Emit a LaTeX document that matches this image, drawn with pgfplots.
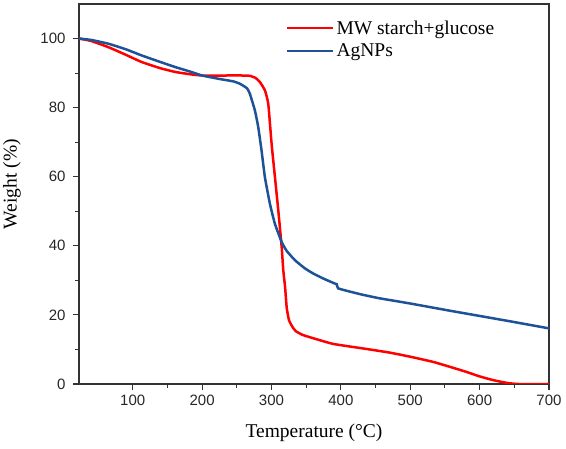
\documentclass[border=0pt]{standalone}
\usepackage{fontspec}
\setmainfont{Liberation Serif}
\setsansfont{Liberation Sans}
\usepackage{pgfplots}
\pgfplotsset{compat=1.18}
\definecolor{myred}{RGB}{255,0,0}
\definecolor{myblue}{RGB}{30,82,152}
\begin{document}
\begin{tikzpicture}
\begin{axis}[
  scale only axis, width=470pt, height=380pt,
  xmin=22.6, xmax=700, ymin=0, ymax=110,
  xtick={100,200,...,700}, ytick={0,20,...,100},
  minor x tick num=1, minor y tick num=1,
  tick align=outside, tick pos=left,
  major tick length=6pt, minor tick length=4pt,
  axis line style={line width=1.1pt, black!80},
  tick style={line width=1.1pt, black!80},
  ticklabel style={font=\sffamily\fontsize{15}{18}\selectfont, text=black!85},
  yticklabel style={xshift=-4pt},
  xticklabel style={yshift=-1pt},
  /pgf/number format/assume math mode=true,
  label style={font=\fontsize{19.5}{23}\selectfont},
  xlabel={Temperature (°C)}, ylabel={Weight (\%)},
  xlabel style={at={(axis description cs:0.5,-0.129)}, anchor=center},
  ylabel style={at={(axis description cs:-0.1426,0.526)}, anchor=center},
  legend style={draw=none, fill=none, at={(0.44,0.962)}, anchor=north west,
    font=\fontsize{19.5}{23}\selectfont, row sep=4pt, inner sep=0pt},
  legend cell align=left,
  legend image code/.code={\draw[#1, line width=2.5pt] (0pt,0pt) -- (46pt,0pt);},
]
\addplot[myred, line width=2.5pt, smooth, tension=0.25] coordinates {
(22.6,100) (40,99.3) (65,97.5) (90,95.3) (113,93.2) (140,91.4) (162,90.3) (185,89.6)
(200,89.3) (230,89.3) (258,89.3) (269,89.2) (277,88.6) (283.4,87.4) (290.6,85.0)
(295.4,81.1) (300.2,69.5) (305,59.9) (309.8,50.3) (314.7,39.7) (317,33)
(319.6,28.1) (322,22) (325.2,18.5) (330,16.6) (335,15.3) (345,14.2) (361,13.2)
(389,11.6) (435,10.2) (470,9.1) (500,7.9) (533,6.4) (560,4.8) (581,3.5) (600,2.2)
(620,1.1) (640,0.3) (655,0) (700,0)
};
\addlegendentry{MW starch+glucose}
\addplot[myblue, line width=2.5pt, smooth, tension=0.25] coordinates {
(22.6,100) (40,99.6) (65,98.5) (90,96.9) (113,95.1) (140,93.2) (162,91.7) (185,90.3)
(200,89.3) (225,88.3) (245,87.6) (254.6,86.9) (264.8,85.6) (268.9,84.0) (276.1,79.2)
(280.9,74.4) (285.7,67.6) (290.5,59.9) (297.7,52.2) (304.9,46.4) (314.7,41.1) (322,38.5)
(334,35.8) (348,33.5) (360,32) (375,30.5) (391,29.1) (394,28.9) (396,27.7) (410,26.9)
(430,25.9) (456,24.8) (500,23.3) (552,21.4) (600,19.7) (648,18) (700,16.1)
};
\addlegendentry{AgNPs}
\end{axis}
\pgfresetboundingbox
\path (current axis.south west) ++(-79pt,-65pt) coordinate (bba);
\path (current axis.north east) ++(17pt,4pt) coordinate (bbb);
\useasboundingbox (bba) rectangle (bbb);
\end{tikzpicture}
\end{document}
